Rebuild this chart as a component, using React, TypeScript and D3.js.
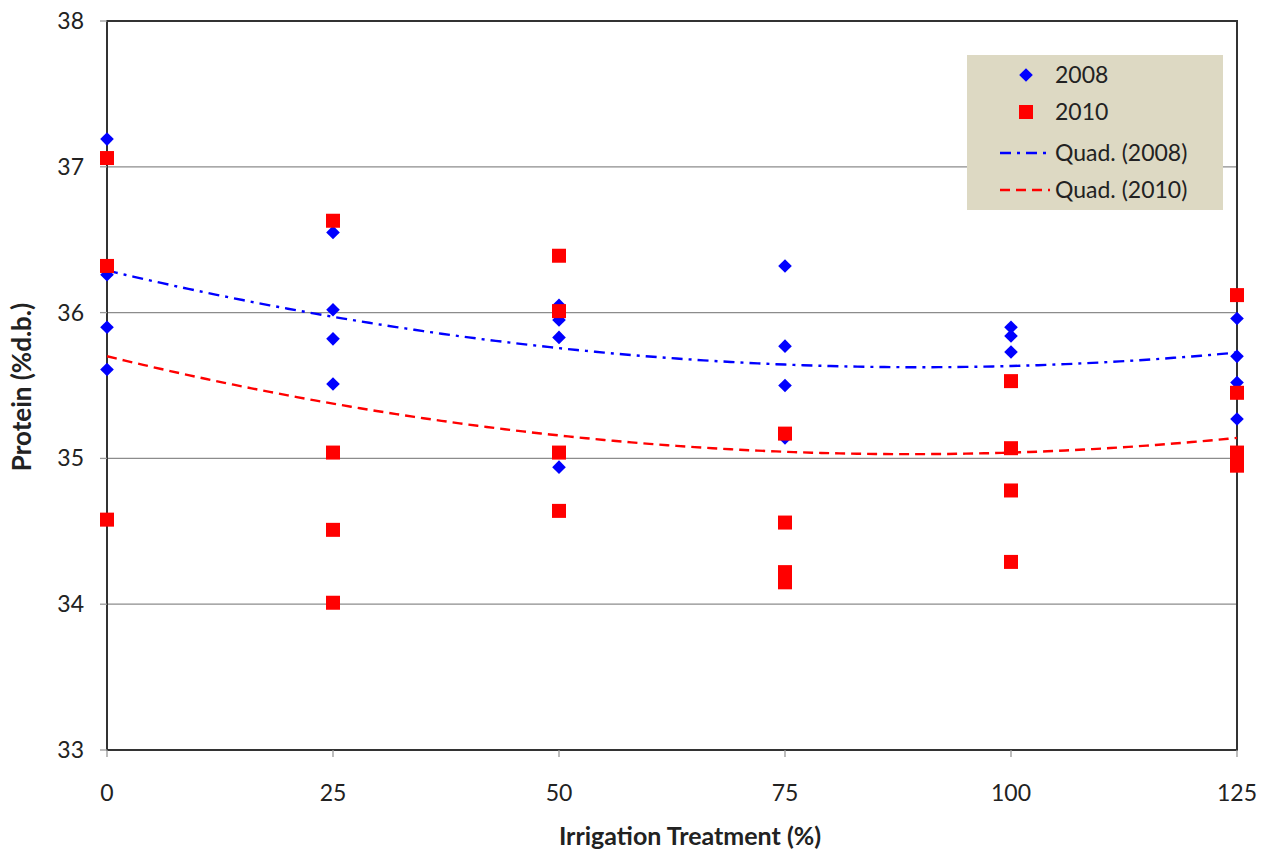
import React from "react";
import * as d3 from "d3";

const xTicks = [0, 25, 50, 75, 100, 125];
const yTicks = [33, 34, 35, 36, 37, 38];

// 2008 observations (diamonds)
const x2008 = [0, 0, 0, 0, 25, 25, 25, 25, 50, 50, 50, 50, 75, 75, 75, 75, 100, 100, 100, 125, 125, 125, 125];
const y2008 = [37.19, 36.26, 35.9, 35.61, 36.55, 36.02, 35.82, 35.51, 36.05, 35.95, 35.83, 34.94, 36.32, 35.77, 35.5, 35.14, 35.9, 35.84, 35.73, 35.96, 35.7, 35.52, 35.27];

// 2010 observations (squares)
const x2010 = [0, 0, 0, 25, 25, 25, 25, 50, 50, 50, 50, 75, 75, 75, 75, 100, 100, 100, 100, 125, 125, 125, 125];
const y2010 = [37.06, 36.32, 34.58, 36.63, 35.04, 34.51, 34.01, 36.39, 36.01, 35.04, 34.64, 35.17, 34.56, 34.22, 34.15, 35.53, 35.07, 34.78, 34.29, 36.12, 35.45, 35.04, 34.95];

// Quadratic trend readings at each treatment level
const trend2008 = [36.28, 35.99, 35.75, 35.64, 35.63, 35.73];
const trend2010 = [35.7, 35.38, 35.15, 35.05, 35.04, 35.14];

const W = 1267;
const H = 858;
const M = { left: 107, right: 1237, top: 21, bottom: 750 };
const FONT = "Lato, 'Open Sans', sans-serif";
const BLUE = "#0000ff";
const RED = "#ff0000";

function quadFit(xs: number[], ys: number[]) {
  const n = xs.length;
  let s0 = n, s1 = 0, s2 = 0, s3 = 0, s4 = 0, t0 = 0, t1 = 0, t2 = 0;
  for (let i = 0; i < n; i++) {
    const x = xs[i], y = ys[i];
    s1 += x; s2 += x * x; s3 += x * x * x; s4 += x * x * x * x;
    t0 += y; t1 += x * y; t2 += x * x * y;
  }
  const A = [[s0, s1, s2, t0], [s1, s2, s3, t1], [s2, s3, s4, t2]];
  for (let i = 0; i < 3; i++) {
    for (let k = i + 1; k < 3; k++) {
      const f = A[k][i] / A[i][i];
      for (let j = i; j < 4; j++) A[k][j] -= f * A[i][j];
    }
  }
  const c = [0, 0, 0];
  for (let i = 2; i >= 0; i--) {
    let s = A[i][3];
    for (let j = i + 1; j < 3; j++) s -= A[i][j] * c[j];
    c[i] = s / A[i][i];
  }
  return (x: number) => c[0] + c[1] * x + c[2] * x * x;
}

export default function App() {
  const x = d3.scaleLinear().domain([0, 125]).range([M.left, M.right]);
  const y = d3.scaleLinear().domain([33, 38]).range([M.bottom, M.top]);

  const f08 = quadFit(xTicks, trend2008);
  const f10 = quadFit(xTicks, trend2010);
  const xs = d3.range(0, 125.01, 1);
  const line = d3.line<number[]>().x((d) => x(d[0])).y((d) => y(d[1]));
  const path08 = line(xs.map((v) => [v, f08(v)])) || "";
  const path10 = line(xs.map((v) => [v, f10(v)])) || "";

  const diamond = d3.symbol().type(d3.symbolDiamond2).size(118)() || "";
  const sq = 14;

  return (
    <svg width={W} height={H} style={{ position: "absolute", left: 0, top: 0, background: "#fff" }}>
      {yTicks.map((t) => (
        <line key={"g" + t} x1={M.left} x2={M.right} y1={y(t)} y2={y(t)} stroke="#8c8c8c" strokeWidth={1.3} />
      ))}
      <rect x={M.left} y={M.top} width={M.right - M.left} height={M.bottom - M.top} fill="none" stroke="#333" strokeWidth={2} />
      {yTicks.map((t) => (
        <g key={"yt" + t}>
          <line x1={M.left - 7} x2={M.left} y1={y(t)} y2={y(t)} stroke="#999" strokeWidth={1.3} />
          <text x={84} y={y(t) + 8} textAnchor="end" fontFamily={FONT} fontSize={23} fill="#222">{t}</text>
        </g>
      ))}
      {xTicks.map((t) => (
        <g key={"xt" + t}>
          <line x1={x(t)} x2={x(t)} y1={M.bottom} y2={M.bottom + 7} stroke="#999" strokeWidth={1.3} />
          <text x={x(t)} y={801} textAnchor="middle" fontFamily={FONT} fontSize={23} fill="#222">{t}</text>
        </g>
      ))}
      <text x={690} y={845} textAnchor="middle" fontFamily={FONT} fontWeight="bold" fontSize={25} fill="#222">Irrigation Treatment (%)</text>
      <text transform={`translate(31,387) rotate(-90)`} textAnchor="middle" fontFamily={FONT} fontWeight="bold" fontSize={26} fill="#222">Protein (%d.b.)</text>

      <path d={path08} fill="none" stroke={BLUE} strokeWidth={2.4} strokeDasharray="11 6 3 6" />
      <path d={path10} fill="none" stroke={RED} strokeWidth={2.4} strokeDasharray="10 6" />

      {x2008.map((xv, i) => (
        <path key={"d" + i} d={diamond} transform={`translate(${x(xv)},${y(y2008[i])})`} fill={BLUE} />
      ))}
      {x2010.map((xv, i) => (
        <rect key={"s" + i} x={x(xv) - sq / 2} y={y(y2010[i]) - sq / 2} width={sq} height={sq} fill={RED} />
      ))}

      <g>
        <rect x={967} y={55} width={256} height={155} fill="#ddd9c3" />
        <path d={diamond} transform={`translate(1026,75)`} fill={BLUE} />
        <text x={1055} y={83} fontFamily={FONT} fontSize={23} fill="#222">2008</text>
        <rect x={1026 - sq / 2} y={112 - sq / 2} width={sq} height={sq} fill={RED} />
        <text x={1055} y={120} fontFamily={FONT} fontSize={23} fill="#222">2010</text>
        <line x1={1000} x2={1050} y1={153} y2={153} stroke={BLUE} strokeWidth={2.4} strokeDasharray="11 6 3 6" />
        <text x={1055} y={161} fontFamily={FONT} fontSize={23} fill="#222">Quad. (2008)</text>
        <line x1={1000} x2={1050} y1={190} y2={190} stroke={RED} strokeWidth={2.4} strokeDasharray="10 6" />
        <text x={1055} y={198} fontFamily={FONT} fontSize={23} fill="#222">Quad. (2010)</text>
      </g>
    </svg>
  );
}
